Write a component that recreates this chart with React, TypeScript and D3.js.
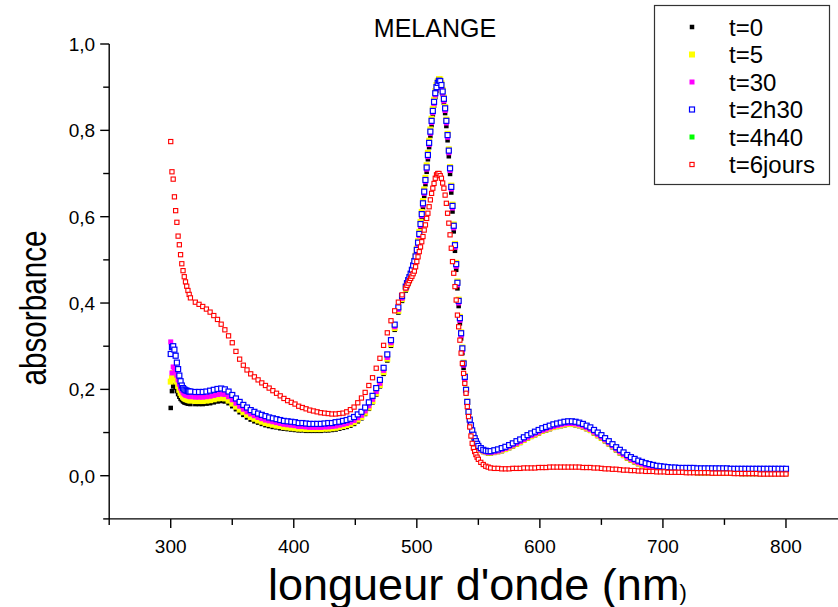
import React from 'react';
import * as d3 from 'd3';

// ---------- DATA ----------
// wavelength sampling grid (nm)
const WAVELENGTHS: number[] = [
  ...d3.range(300, 317, 1), // 17
  ...d3.range(320, 489, 3), // 57
  ...d3.range(491, 551, 1), // 60
  ...d3.range(552, 561, 2), // 5
  ...d3.range(563, 801, 3), // 80
];

const SERIES_LABELS = ['t=0', 't=5', 't=30', 't=2h30', 't=4h40', 't=6jours'];

// t=0
const absT0 = [
  // 300–316
  0.157, 0.196, 0.207, 0.210, 0.204, 0.196, 0.189, 0.183, 0.178, 0.175, 0.172, 0.170, 0.169, 0.168, 0.167, 0.167, 0.166,
  // 320–488 (step 3)
  0.166, 0.166, 0.166, 0.167, 0.168, 0.170, 0.172, 0.173, 0.172, 0.168,
  0.161, 0.154, 0.147, 0.141, 0.135, 0.130, 0.126, 0.123, 0.120, 0.117,
  0.115, 0.113, 0.112, 0.110, 0.109, 0.108, 0.107, 0.106, 0.105, 0.105,
  0.104, 0.104, 0.104, 0.104, 0.104, 0.105, 0.105, 0.106, 0.107, 0.109,
  0.111, 0.113, 0.116, 0.120, 0.126, 0.133, 0.143, 0.155, 0.170, 0.188,
  0.207, 0.236, 0.267, 0.301, 0.338, 0.378, 0.405,
  // 491–550
  0.429, 0.437, 0.444, 0.451,
  0.458, 0.467, 0.477, 0.487, 0.498, 0.513, 0.530, 0.550, 0.573, 0.596,
  0.621, 0.648, 0.675, 0.704, 0.733, 0.761, 0.787, 0.812, 0.836, 0.857,
  0.877, 0.892, 0.903, 0.908, 0.908, 0.900, 0.884, 0.864, 0.840, 0.810,
  0.777, 0.740, 0.699, 0.656, 0.612, 0.566, 0.521, 0.477, 0.434, 0.393,
  0.353, 0.318, 0.284, 0.250, 0.220, 0.191, 0.164, 0.141, 0.124, 0.111,
  0.099, 0.089, 0.081, 0.075, 0.069, 0.064,
  // 552–560
  0.059, 0.055, 0.053, 0.052, 0.052,
  // 563–800 (step 3)
  0.053, 0.055, 0.057, 0.060, 0.064, 0.068, 0.072, 0.076, 0.081, 0.086,
  0.090, 0.094, 0.098, 0.102, 0.105, 0.108, 0.111, 0.113, 0.115, 0.117,
  0.118, 0.118, 0.117, 0.115, 0.112, 0.108, 0.104, 0.098, 0.092, 0.086,
  0.080, 0.073, 0.066, 0.059, 0.052, 0.046, 0.040, 0.035, 0.031, 0.027,
  0.023, 0.020, 0.018, 0.016, 0.014, 0.013, 0.012, 0.011, 0.010, 0.009,
  0.008, 0.008, 0.007, 0.007, 0.007, 0.006, 0.006, 0.006, 0.006, 0.006,
  0.005, 0.005, 0.005, 0.005, 0.005, 0.005, 0.005, 0.004, 0.004, 0.004,
  0.004, 0.004, 0.004, 0.004, 0.004, 0.004, 0.004, 0.004, 0.004, 0.004,
];

// t=5
const absT5 = [
  0.218, 0.226, 0.238, 0.236, 0.228, 0.218, 0.208, 0.199, 0.192, 0.187, 0.183, 0.180, 0.178, 0.177, 0.176, 0.175, 0.174,
  0.173, 0.173, 0.173, 0.174, 0.175, 0.177, 0.179, 0.180, 0.179, 0.174,
  0.167, 0.160, 0.153, 0.147, 0.141, 0.136, 0.132, 0.128, 0.125, 0.122,
  0.120, 0.118, 0.116, 0.115, 0.113, 0.112, 0.111, 0.110, 0.109, 0.109,
  0.108, 0.108, 0.108, 0.108, 0.108, 0.109, 0.109, 0.110, 0.111, 0.113,
  0.115, 0.117, 0.120, 0.124, 0.130, 0.136, 0.146, 0.158, 0.173, 0.191,
  0.210, 0.240, 0.271, 0.305, 0.342, 0.382, 0.409,
  0.433, 0.441, 0.449, 0.457,
  0.466, 0.476, 0.487, 0.498, 0.510, 0.526, 0.544, 0.565, 0.588, 0.611,
  0.636, 0.663, 0.690, 0.719, 0.748, 0.776, 0.802, 0.827, 0.850, 0.871,
  0.891, 0.905, 0.914, 0.919, 0.918, 0.909, 0.894, 0.876, 0.854, 0.825,
  0.792, 0.756, 0.715, 0.672, 0.628, 0.582, 0.537, 0.493, 0.450, 0.408,
  0.368, 0.332, 0.297, 0.262, 0.231, 0.200, 0.172, 0.148, 0.129, 0.115,
  0.102, 0.092, 0.084, 0.077, 0.071, 0.066,
  0.061, 0.057, 0.055, 0.054, 0.054,
  0.055, 0.057, 0.059, 0.062, 0.066, 0.070, 0.074, 0.078, 0.083, 0.088,
  0.092, 0.096, 0.100, 0.104, 0.107, 0.110, 0.113, 0.115, 0.117, 0.119,
  0.120, 0.120, 0.119, 0.117, 0.114, 0.110, 0.106, 0.100, 0.094, 0.088,
  0.082, 0.075, 0.068, 0.061, 0.054, 0.048, 0.042, 0.037, 0.033, 0.029,
  0.025, 0.022, 0.020, 0.018, 0.016, 0.015, 0.014, 0.013, 0.012, 0.011,
  0.010, 0.010, 0.009, 0.009, 0.009, 0.008, 0.008, 0.008, 0.008, 0.008,
  0.007, 0.007, 0.007, 0.007, 0.007, 0.007, 0.007, 0.006, 0.006, 0.006,
  0.006, 0.006, 0.006, 0.006, 0.006, 0.006, 0.006, 0.006, 0.006, 0.006,
];

// t=30
const absT30 = [
  0.310, 0.238, 0.252, 0.250, 0.243, 0.233, 0.222, 0.212, 0.203, 0.197, 0.192, 0.189, 0.187, 0.186, 0.185, 0.184, 0.183,
  0.182, 0.182, 0.182, 0.183, 0.184, 0.186, 0.188, 0.189, 0.188, 0.183,
  0.176, 0.168, 0.161, 0.154, 0.148, 0.143, 0.139, 0.135, 0.132, 0.129,
  0.127, 0.125, 0.123, 0.121, 0.119, 0.118, 0.117, 0.116, 0.114, 0.114,
  0.113, 0.112, 0.112, 0.112, 0.112, 0.113, 0.113, 0.114, 0.115, 0.117,
  0.119, 0.121, 0.124, 0.128, 0.134, 0.140, 0.150, 0.162, 0.177, 0.195,
  0.214, 0.244, 0.274, 0.308, 0.345, 0.385, 0.411,
  0.434, 0.442, 0.449, 0.456,
  0.464, 0.473, 0.483, 0.493, 0.504, 0.519, 0.536, 0.556, 0.579, 0.602,
  0.627, 0.654, 0.681, 0.710, 0.739, 0.767, 0.793, 0.818, 0.841, 0.862,
  0.882, 0.896, 0.906, 0.911, 0.910, 0.901, 0.886, 0.868, 0.846, 0.817,
  0.784, 0.748, 0.707, 0.664, 0.620, 0.574, 0.529, 0.485, 0.442, 0.400,
  0.360, 0.325, 0.290, 0.256, 0.225, 0.195, 0.168, 0.145, 0.127, 0.114,
  0.102, 0.092, 0.084, 0.077, 0.071, 0.066,
  0.061, 0.057, 0.055, 0.054, 0.054,
  0.055, 0.057, 0.060, 0.063, 0.067, 0.071, 0.075, 0.079, 0.084, 0.089,
  0.093, 0.097, 0.101, 0.105, 0.108, 0.111, 0.114, 0.116, 0.118, 0.120,
  0.121, 0.121, 0.120, 0.118, 0.115, 0.111, 0.107, 0.101, 0.095, 0.089,
  0.083, 0.076, 0.069, 0.062, 0.055, 0.049, 0.043, 0.038, 0.034, 0.030,
  0.027, 0.024, 0.022, 0.020, 0.018, 0.017, 0.016, 0.015, 0.014, 0.013,
  0.012, 0.012, 0.011, 0.011, 0.011, 0.010, 0.010, 0.010, 0.010, 0.010,
  0.009, 0.009, 0.009, 0.009, 0.009, 0.009, 0.009, 0.008, 0.008, 0.008,
  0.008, 0.008, 0.008, 0.008, 0.008, 0.008, 0.008, 0.008, 0.008, 0.008,
];

// t=2h30
const absT2h30 = [
  0.282, 0.298, 0.300, 0.292, 0.278, 0.262, 0.247, 0.232, 0.219, 0.209, 0.203, 0.200, 0.198, 0.197, 0.196, 0.195, 0.195,
  0.194, 0.194, 0.194, 0.195, 0.197, 0.199, 0.201, 0.202, 0.200, 0.195,
  0.187, 0.179, 0.171, 0.164, 0.158, 0.152, 0.148, 0.144, 0.141, 0.138,
  0.135, 0.133, 0.131, 0.129, 0.127, 0.126, 0.125, 0.124, 0.122, 0.122,
  0.121, 0.120, 0.120, 0.120, 0.120, 0.121, 0.122, 0.122, 0.124, 0.125,
  0.127, 0.129, 0.132, 0.136, 0.142, 0.148, 0.158, 0.170, 0.185, 0.203,
  0.222, 0.250, 0.281, 0.314, 0.350, 0.390, 0.416,
  0.438, 0.446, 0.453, 0.460,
  0.468, 0.477, 0.487, 0.497, 0.508, 0.523, 0.540, 0.560, 0.583, 0.606,
  0.631, 0.658, 0.685, 0.714, 0.743, 0.771, 0.797, 0.822, 0.845, 0.866,
  0.886, 0.900, 0.910, 0.915, 0.914, 0.905, 0.890, 0.873, 0.851, 0.822,
  0.789, 0.753, 0.712, 0.669, 0.625, 0.579, 0.534, 0.490, 0.447, 0.405,
  0.365, 0.330, 0.295, 0.260, 0.229, 0.199, 0.171, 0.148, 0.130, 0.117,
  0.105, 0.095, 0.087, 0.080, 0.074, 0.069,
  0.064, 0.060, 0.058, 0.057, 0.057,
  0.059, 0.061, 0.064, 0.067, 0.071, 0.075, 0.080, 0.084, 0.089, 0.094,
  0.098, 0.102, 0.106, 0.110, 0.113, 0.116, 0.119, 0.121, 0.123, 0.125,
  0.126, 0.126, 0.125, 0.123, 0.120, 0.116, 0.112, 0.106, 0.100, 0.094,
  0.087, 0.080, 0.073, 0.066, 0.060, 0.054, 0.048, 0.043, 0.039, 0.035,
  0.032, 0.029, 0.027, 0.025, 0.023, 0.022, 0.021, 0.020, 0.019, 0.019,
  0.018, 0.018, 0.018, 0.018, 0.018, 0.017, 0.017, 0.017, 0.017, 0.017,
  0.017, 0.017, 0.017, 0.017, 0.016, 0.016, 0.016, 0.016, 0.016, 0.016,
  0.016, 0.016, 0.016, 0.016, 0.016, 0.016, 0.016, 0.016, 0.016, 0.016,
];

// t=4h40 : not distinguishable in the reference, it lies under the t=2h30 markers
const absT4h40 = absT2h30;

// t=6jours
const absT6jours = [
  0.774, 0.704, 0.687, 0.646, 0.614, 0.587, 0.555, 0.535, 0.512, 0.491, 0.475, 0.461, 0.449, 0.439, 0.429, 0.420, 0.412,
  0.402, 0.397, 0.392, 0.386, 0.379, 0.371, 0.362, 0.351, 0.338, 0.324,
  0.308, 0.288, 0.270, 0.256, 0.245, 0.236, 0.229, 0.222, 0.215, 0.209,
  0.203, 0.197, 0.191, 0.185, 0.179, 0.174, 0.170, 0.166, 0.161, 0.158,
  0.155, 0.152, 0.150, 0.148, 0.146, 0.145, 0.144, 0.143, 0.143, 0.144,
  0.145, 0.148, 0.153, 0.159, 0.169, 0.180, 0.193, 0.209, 0.227, 0.249,
  0.272, 0.302, 0.331, 0.359, 0.382, 0.402, 0.419,
  0.435, 0.441, 0.446, 0.452,
  0.457, 0.462, 0.468, 0.474, 0.484, 0.496, 0.507, 0.519, 0.530, 0.542,
  0.554, 0.569, 0.581, 0.596, 0.608, 0.623, 0.639, 0.654, 0.666, 0.677,
  0.689, 0.697, 0.700, 0.700, 0.695, 0.689, 0.678, 0.666, 0.650, 0.631,
  0.608, 0.585, 0.558, 0.527, 0.496, 0.469, 0.438, 0.407, 0.372, 0.345,
  0.314, 0.284, 0.260, 0.237, 0.214, 0.191, 0.160, 0.137, 0.113, 0.092,
  0.075, 0.064, 0.056, 0.049, 0.043, 0.038,
  0.031, 0.026, 0.022, 0.020, 0.018,
  0.017, 0.017, 0.016, 0.016, 0.016, 0.017, 0.017, 0.017, 0.018, 0.018,
  0.018, 0.018, 0.019, 0.019, 0.019, 0.020, 0.020, 0.020, 0.020, 0.020,
  0.020, 0.020, 0.020, 0.020, 0.019, 0.019, 0.019, 0.018, 0.018, 0.017,
  0.016, 0.016, 0.015, 0.015, 0.014, 0.013, 0.013, 0.012, 0.012, 0.011,
  0.011, 0.010, 0.010, 0.010, 0.009, 0.009, 0.009, 0.008, 0.008, 0.008,
  0.008, 0.008, 0.007, 0.007, 0.007, 0.007, 0.007, 0.007, 0.007, 0.006,
  0.006, 0.006, 0.006, 0.006, 0.006, 0.005, 0.005, 0.005, 0.005, 0.005,
  0.005, 0.005, 0.004, 0.004, 0.004, 0.004, 0.004, 0.004, 0.004, 0.004,
];

const X_MAJOR_TICKS = [300, 400, 500, 600, 700, 800];
const X_MINOR_TICKS = [250, 350, 450, 550, 650, 750];
const Y_MAJOR_TICKS = [0, 0.2, 0.4, 0.6, 0.8, 1.0];
const Y_TICK_LABELS = ['0,0', '0,2', '0,4', '0,6', '0,8', '1,0'];
const Y_MINOR_TICKS = [-0.1, 0.1, 0.3, 0.5, 0.7, 0.9];

// ---------- STYLES ----------
type MarkStyle = { size: number; fill: string; stroke: string; sw: number };
const STYLES: Record<string, MarkStyle> = {
  't=0': { size: 4.5, fill: '#000000', stroke: 'none', sw: 0 },
  't=5': { size: 6, fill: '#ffff00', stroke: 'none', sw: 0 },
  't=30': { size: 5, fill: '#ff00ff', stroke: 'none', sw: 0 },
  't=2h30': { size: 5, fill: '#ffffff', stroke: '#0000ff', sw: 1.2 },
  't=4h40': { size: 5, fill: '#00ff00', stroke: 'none', sw: 0 },
  't=6jours': { size: 4.2, fill: '#ffffff', stroke: '#ff0000', sw: 1.1 },
};

const DATA: Record<string, number[]> = {
  't=0': absT0,
  't=5': absT5,
  't=30': absT30,
  't=2h30': absT2h30,
  't=4h40': absT4h40,
  't=6jours': absT6jours,
};

const DRAW_ORDER = ['t=4h40', 't=0', 't=5', 't=30', 't=2h30', 't=6jours'];

const FONT = "'Liberation Sans', Arial, Helvetica, sans-serif";

export default function App() {
  const W = 838;
  const H = 607;
  const x = d3.scaleLinear().domain([250, 850]).range([109.2, 847.5]);
  const y = d3.scaleLinear().domain([-0.1, 1.0]).range([518.9, 44]);

  const x0 = x(250);
  const yBase = y(-0.1);

  const legendRows = [27, 54.5, 82, 109.5, 137, 164.5];

  return (
    <svg
      width={W}
      height={H}
      viewBox={`0 0 ${W} ${H}`}
      style={{ position: 'absolute', left: 0, top: 0, background: '#fff' }}
      fontFamily={FONT}
    >
      <rect x={0} y={0} width={W} height={H} fill="#fff" />

      {/* data markers */}
      {DRAW_ORDER.map((key) => {
        const st = STYLES[key];
        const vals = DATA[key];
        return (
          <g key={key}>
            {WAVELENGTHS.map((wl, i) => {
              const v = vals[i];
              if (v === undefined) return null;
              return (
                <rect
                  key={i}
                  x={x(wl) - st.size / 2}
                  y={y(v) - st.size / 2}
                  width={st.size}
                  height={st.size}
                  fill={st.fill}
                  stroke={st.stroke}
                  strokeWidth={st.sw}
                />
              );
            })}
          </g>
        );
      })}

      {/* axes */}
      <g stroke="#000" strokeWidth={1.4}>
        <line x1={x0} x2={x0} y1={y(1.0)} y2={yBase} />
        <line x1={x0} x2={W} y1={yBase} y2={yBase} />
        {Y_MAJOR_TICKS.map((t) => (
          <line key={'ym' + t} x1={x0 - 9} x2={x0} y1={y(t)} y2={y(t)} />
        ))}
        {Y_MINOR_TICKS.map((t) => (
          <line key={'yn' + t} x1={x0 - 6} x2={x0} y1={y(t)} y2={y(t)} />
        ))}
        {X_MAJOR_TICKS.map((t) => (
          <line key={'xm' + t} x1={x(t)} x2={x(t)} y1={yBase} y2={yBase + 9} />
        ))}
        {X_MINOR_TICKS.map((t) => (
          <line key={'xn' + t} x1={x(t)} x2={x(t)} y1={yBase} y2={yBase + 6} />
        ))}
      </g>

      {/* tick labels */}
      {Y_MAJOR_TICKS.map((t, i) => (
        <text
          key={'yl' + t}
          x={x0 - 14}
          y={y(t)}
          dy="0.36em"
          textAnchor="end"
          fontSize={19}
          fill="#000"
        >
          {Y_TICK_LABELS[i]}
        </text>
      ))}
      {X_MAJOR_TICKS.map((t) => (
        <text key={'xl' + t} x={x(t)} y={553} textAnchor="middle" fontSize={19} fill="#000">
          {String(t)}
        </text>
      ))}

      {/* titles */}
      <text x={435} y={36.5} textAnchor="middle" fontSize={25} fill="#000">
        MELANGE
      </text>
      <text x={268} y={600} fontSize={45} fill="#000">
        longueur d'onde (nm<tspan fontSize={22}>)</tspan>
      </text>
      <text
        transform="translate(46,308) rotate(-90)"
        textAnchor="middle"
        fontSize={36}
        textLength={155}
        lengthAdjust="spacingAndGlyphs"
        fill="#000"
      >
        absorbance
      </text>

      {/* legend */}
      <rect x={654.5} y={5.5} width={175} height={179} fill="#fff" stroke="#333" strokeWidth={1.2} />
      {SERIES_LABELS.map((lab, i) => {
        const st = STYLES[lab];
        const cy = legendRows[i];
        return (
          <g key={'lg' + lab}>
            <rect
              x={692 - st.size / 2}
              y={cy - st.size / 2}
              width={st.size}
              height={st.size}
              fill={st.fill}
              stroke={st.stroke}
              strokeWidth={st.sw}
            />
            <text x={729} y={cy + 8.5} fontSize={24} fill="#000">
              {lab}
            </text>
          </g>
        );
      })}
    </svg>
  );
}
